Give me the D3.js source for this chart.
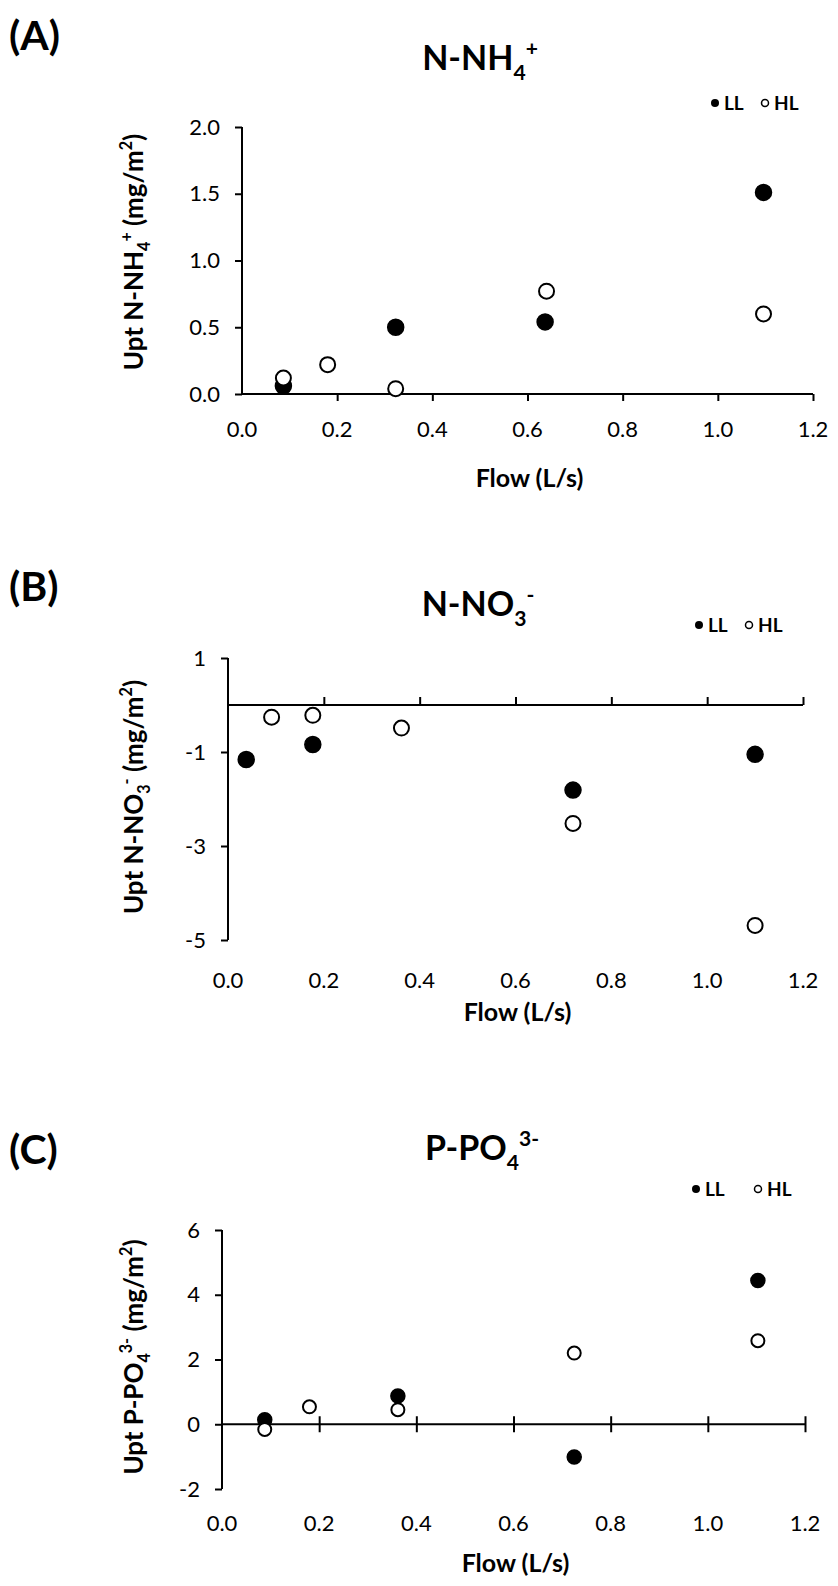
<!DOCTYPE html>
<html>
<head>
<meta charset="utf-8">
<script src="https://cdn.jsdelivr.net/npm/d3@7"></script>
<style>
  body { margin: 0; background: #fff; }
  svg { display: block; font-family: Lato, "Open Sans", sans-serif; }
</style>
</head>
<body>
<svg id="chart" width="838" height="1586"></svg>
<script>
// ---- data ----
const flowTicks = [0, 0.2, 0.4, 0.6, 0.8, 1.0, 1.2];

const nh4FlowLL = [0.087, 0.323, 0.637, 1.096];
const nh4UptLL  = [0.06, 0.50, 0.54, 1.51];
const nh4FlowHL = [0.087, 0.18, 0.323, 0.64, 1.096];
const nh4UptHL  = [0.12, 0.22, 0.04, 0.77, 0.60];
const nh4Ticks  = [0, 0.5, 1.0, 1.5, 2.0];

const no3FlowLL = [0.038, 0.177, 0.72, 1.10];
const no3UptLL  = [-1.16, -0.84, -1.81, -1.05];
const no3FlowHL = [0.091, 0.177, 0.362, 0.72, 1.10];
const no3UptHL  = [-0.26, -0.22, -0.49, -2.52, -4.69];
const no3Ticks  = [1, -1, -3, -5];

const po4FlowLL = [0.088, 0.362, 0.725, 1.103];
const po4UptLL  = [0.14, 0.87, -1.01, 4.44];
const po4FlowHL = [0.088, 0.18, 0.362, 0.725, 1.103];
const po4UptHL  = [-0.16, 0.54, 0.45, 2.2, 2.58];
const po4Ticks  = [6, 4, 2, 0, -2];

const svg = d3.select('#chart');
const intFmt = d => String(d);           // plain hyphen minus, like the source
const oneDec = d => d.toFixed(1);

// text with sub/superscripts: parts = [[text, 'sub'|'sup'|null], ...]
const richText = (g, parts, size) => {
	let shift = 0;
	parts.forEach(([t, kind]) => {
		let target = 0;
		if (kind === 'sub') target = size * 0.28;
		if (kind === 'sup') target = -size * 0.42;
		g.append('tspan')
			.attr('dy', target - shift)
			.attr('font-size', kind ? size * 0.62 : size)
			.text(t);
		shift = target;
	});
	return g;
};

const panels = [
	{
		label: '(A)', labelY: 50,
		title: [['N-NH', null], ['4', 'sub'], ['+', 'sup']], titleX: 480, titleY: 70,
		ytitle: [['Upt N-NH', null], ['4', 'sub'], ['+', 'sup'], [' (mg/m', null], ['2', 'sup'], [')', null]], ytitleY: 252,
		legendX: 711, legendY: 103, legendGap: 0,
		x0: 242, x1: 813, yDomain: [0, 2], yTop: 127, yBottom: 394,
		ticks: nh4Ticks, fmt: oneDec, tickDir: 'down',
		tickLabelY: 437, flowY: 487, r: 8,
		ll: nh4FlowLL.map((f, i) => [f, nh4UptLL[i]]),
		hl: nh4FlowHL.map((f, i) => [f, nh4UptHL[i]])
	},
	{
		label: '(B)', labelY: 601,
		title: [['N-NO', null], ['3', 'sub'], ['-', 'sup']], titleX: 478, titleY: 616,
		ytitle: [['Upt N-NO', null], ['3', 'sub'], ['-', 'sup'], [' (mg/m', null], ['2', 'sup'], [')', null]], ytitleY: 797,
		legendX: 695, legendY: 625, legendGap: 0,
		x0: 228, x1: 803, yDomain: [-5, 1], yTop: 658, yBottom: 940,
		ticks: no3Ticks, fmt: intFmt, tickDir: 'up',
		tickLabelY: 988, flowY: 1021, r: 8,
		ll: no3FlowLL.map((f, i) => [f, no3UptLL[i]]),
		hl: no3FlowHL.map((f, i) => [f, no3UptHL[i]])
	},
	{
		label: '(C)', labelY: 1164,
		title: [['P-PO', null], ['4', 'sub'], ['3-', 'sup']], titleX: 482, titleY: 1160,
		ytitle: [['Upt P-PO', null], ['4', 'sub'], ['3-', 'sup'], [' (mg/m', null], ['2', 'sup'], [')', null]], ytitleY: 1357,
		legendX: 692, legendY: 1189, legendGap: 12,
		x0: 222, x1: 805, yDomain: [-2, 6], yTop: 1230, yBottom: 1489,
		ticks: po4Ticks, fmt: intFmt, tickDir: 'cross',
		tickLabelY: 1531, flowY: 1572, r: 7,
		ll: po4FlowLL.map((f, i) => [f, po4UptLL[i]]),
		hl: po4FlowHL.map((f, i) => [f, po4UptHL[i]])
	}
];

panels.forEach(p => {
	const x = d3.scaleLinear().domain([0, 1.2]).range([p.x0, p.x1]);
	const y = d3.scaleLinear().domain(p.yDomain).range([p.yBottom, p.yTop]);
	const g = svg.append('g');

	// panel letter
	g.append('text').attr('x', 9).attr('y', p.labelY)
		.attr('font-size', 41).attr('font-weight', 'bold').text(p.label);

	// title
	richText(g.append('text').attr('x', p.titleX).attr('y', p.titleY)
		.attr('text-anchor', 'middle').attr('font-weight', 'bold'), p.title, 34);

	// y axis
	const yAxis = g.append('g').attr('transform', `translate(${p.x0},0)`)
		.call(d3.axisLeft(y).tickValues(p.ticks).tickFormat(p.fmt).tickSize(7).tickPadding(15));
	yAxis.select('.domain').attr('d', `M0,${p.yTop}V${p.yBottom}`);

	// x axis line sits at y = 0
	const xAxis = g.append('g').attr('transform', `translate(0,${y(0)})`);
	xAxis.call(d3.axisBottom(x).tickValues(flowTicks.slice(1)).tickFormat('').tickSize(p.tickDir === 'down' ? 7 : 0));
	xAxis.select('.domain').attr('d', `M${p.x0},0H${p.x1}`);
	if (p.tickDir !== 'down') {
		xAxis.selectAll('.tick line')
			.attr('y1', -8).attr('y2', p.tickDir === 'cross' ? 8 : 0);
	}

	[yAxis, xAxis].forEach(a => {
		a.selectAll('path, line').attr('stroke', '#000').attr('stroke-width', 2);
		a.selectAll('text').attr('font-size', 22).attr('fill', '#000')
			.attr('font-family', 'Lato, sans-serif');
	});

	// x tick labels at the bottom of the panel
	g.selectAll('.xlab').data(flowTicks).enter().append('text')
		.attr('x', d => x(d)).attr('y', p.tickLabelY)
		.attr('text-anchor', 'middle').attr('font-size', 22)
		.text(oneDec);

	// axis titles
	g.append('text').attr('x', (p.x0 + p.x1) / 2 + 2).attr('y', p.flowY)
		.attr('text-anchor', 'middle').attr('font-size', 25).attr('font-weight', 'bold')
		.text('Flow (L/s)');
	richText(g.append('text')
		.attr('transform', `translate(143,${p.ytitleY}) rotate(-90)`)
		.attr('text-anchor', 'middle').attr('font-weight', 'bold'), p.ytitle, 26);

	// points: LL filled, HL open on top
	g.selectAll('.ll').data(p.ll).enter().append('circle')
		.attr('cx', d => x(d[0])).attr('cy', d => y(d[1])).attr('r', p.r)
		.attr('fill', '#000').attr('stroke', '#000').attr('stroke-width', 1.5);
	g.selectAll('.hl').data(p.hl).enter().append('circle')
		.attr('cx', d => x(d[0])).attr('cy', d => y(d[1])).attr('r', p.r - 0.5)
		.attr('fill', '#fff').attr('stroke', '#000').attr('stroke-width', 2);

	// legend
	const lg = g.append('g').attr('transform', `translate(${p.legendX},${p.legendY})`);
	lg.append('circle').attr('cx', 4).attr('cy', 0).attr('r', 4).attr('fill', '#000');
	lg.append('text').attr('x', 13).attr('y', 7).attr('font-size', 19).attr('font-weight', 'bold').text('LL');
	lg.append('circle').attr('cx', 54 + p.legendGap).attr('cy', 0).attr('r', 3.5)
		.attr('fill', '#fff').attr('stroke', '#000').attr('stroke-width', 1.5);
	lg.append('text').attr('x', 63 + p.legendGap).attr('y', 7).attr('font-size', 19).attr('font-weight', 'bold').text('HL');
});
</script>
</body>
</html>
